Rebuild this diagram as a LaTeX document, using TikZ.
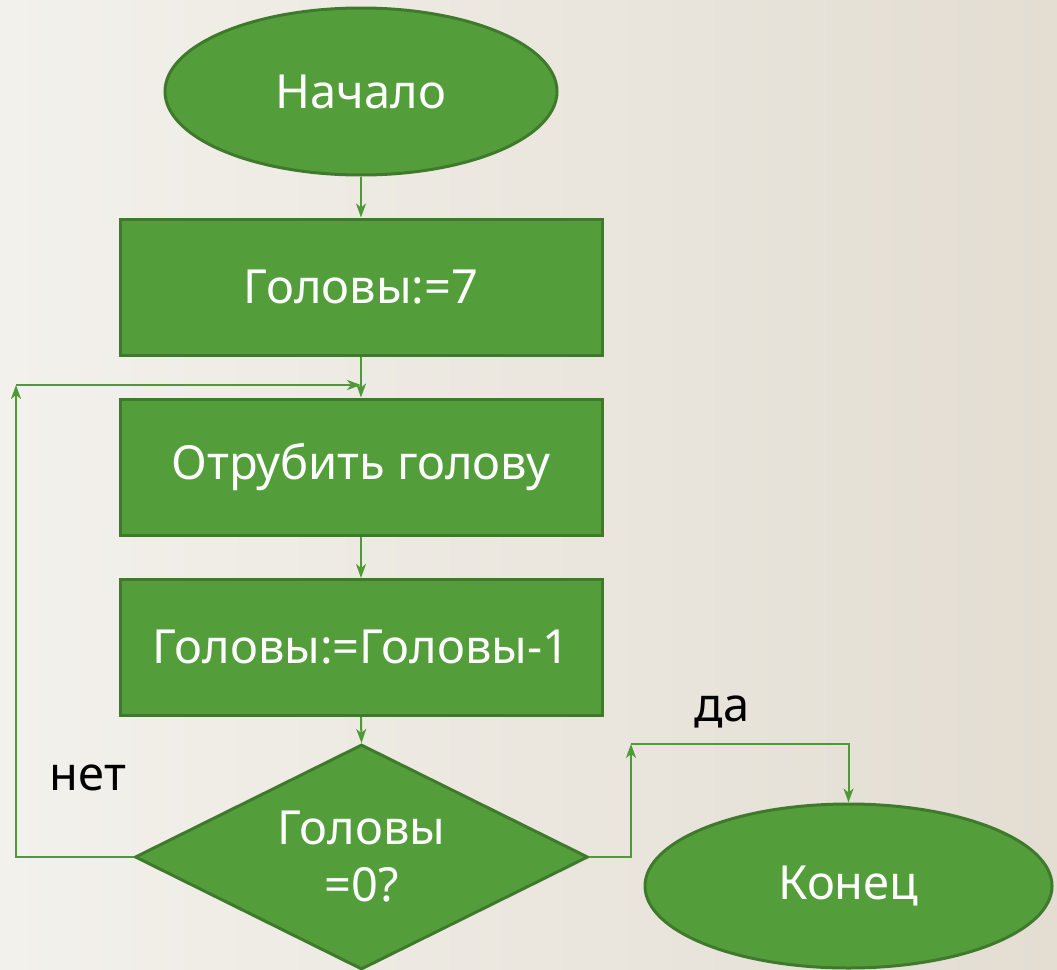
\documentclass[tikz,border=0pt]{standalone}
\usepackage{fontspec}
\setmainfont{Noto Sans}
\usetikzlibrary{shapes.geometric,arrows.meta}
\definecolor{bgL}{HTML}{F3F1EC}
\definecolor{bgR}{HTML}{E3DDD2}
\definecolor{gfill}{HTML}{539E3A}
\definecolor{gdraw}{HTML}{3F7A2C}
\definecolor{gline}{HTML}{4E9A36}
\tikzset{
  block/.style={draw=gdraw, line width=3pt, fill=gfill, text=white, font=\fontsize{47}{58}\selectfont, inner sep=0pt},
  procbox/.style={block, rectangle, minimum width=482pt, minimum height=136pt},
  termbox/.style={block, ellipse},
  decbox/.style={block, diamond, minimum width=453pt, minimum height=225pt},
  dectxt/.style={text=white, font=\fontsize{47}{57}\selectfont, inner sep=0pt, align=center},
  conn/.style={draw=gline, line width=2pt},
  arr/.style={conn, -{Stealth[length=14pt,width=10pt,inset=4pt]}},
  lbl/.style={text=black, font=\fontsize{47}{52}\selectfont, inner sep=0pt}
}
\begin{document}
\begin{tikzpicture}[x=1pt,y=-1pt]
\shade[left color=bgL, right color=bgR] (0,0) rectangle (1057,969);
\useasboundingbox (0,0) rectangle (1057,969);
\node[termbox, minimum width=392pt, minimum height=167pt] (start) at (361,91.5) {Начало};
\node[procbox] (b1) at (361,287) {Головы:=7};
\node[procbox] (b2) at (361,467) {Отрубить голову};
\node[procbox] (b3) at (361,647.5) {Головы:=Головы-1};
\node[decbox] (dec) at (361.5,857) {};
\node[dectxt] (dect) at (dec.center) {Головы\\=0?};
\node[termbox, minimum width=407pt, minimum height=164pt] (end) at (848.5,886) {Конец};
\coordinate (lb) at (16,857);
\coordinate (lt) at (16,385);
\coordinate (lj) at (361,385);
\coordinate (ra) at (631,857);
\coordinate (rt) at (631,744);
\coordinate (rr) at (848.5,744);
\draw[arr] (start.south) -- (b1.north);
\draw[arr] (b1.south) -- (b2.north);
\draw[arr] (b2.south) -- (b3.north);
\draw[arr] (b3.south) -- (dec.north);
\draw[arr] (dec.west) -- (lb) -- (lt);
\draw[arr] (lt) -- (lj);
\draw[arr] (dec.east) -- (ra) -- (rt);
\draw[arr] (rt) -- (rr) -- (end.north);
\node[lbl] (no) at (88,778) {нет};
\node[lbl] (yes) at (722,712) {да};
\end{tikzpicture}
\end{document}
